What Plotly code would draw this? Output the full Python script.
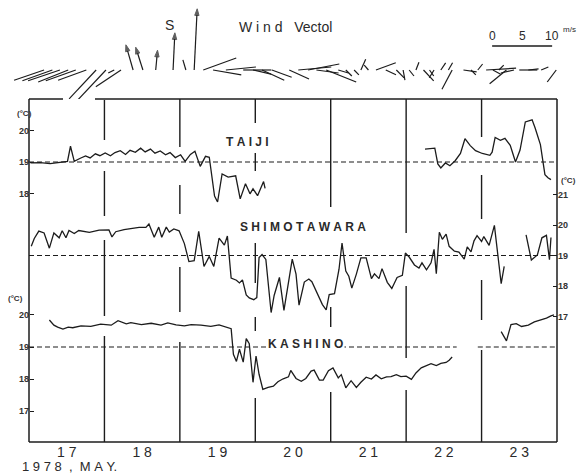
import plotly.graph_objects as go

# ------------------------------------------------------------------ data
# air temperature (deg C) vs time (day of May 1978)
TAIJI_DAY = [17.02, 17.15, 17.28, 17.41, 17.51, 17.55, 17.60, 17.68, 17.75, 17.81,
             17.88, 17.94, 18.01, 18.08, 18.14, 18.21, 18.28, 18.34, 18.41, 18.48,
             18.54, 18.61, 18.67, 18.74, 18.81, 18.87, 18.94, 19.01, 19.07, 19.14,
             19.20, 19.27, 19.34, 19.39, 19.46, 19.50, 19.56, 19.64, 19.74, 19.80,
             19.87, 19.93, 19.97, 20.03, 20.07, 20.11, 20.13, None,
             22.25, 22.38, 22.42, 22.46, 22.52, 22.58, 22.65, 22.72, 22.78, 22.85,
             22.92, 23.01, 23.11, 23.14, 23.18, 23.25, 23.31, 23.38, 23.45, 23.51,
             23.58, 23.67, 23.71, 23.78, 23.84, 23.88, 23.92]
TAIJI_TEMP = [18.97, 18.98, 18.95, 18.99, 19.02, 19.50, 19.02, 19.12, 19.19, 19.13,
              19.26, 19.20, 19.29, 19.20, 19.30, 19.36, 19.24, 19.37, 19.31, 19.44,
              19.32, 19.41, 19.28, 19.35, 19.23, 19.30, 19.14, 19.23, 19.02, 19.24,
              19.34, 18.86, 19.18, 19.15, 17.92, 17.73, 18.62, 18.52, 18.56, 17.83,
              18.31, 17.99, 18.15, 17.93, 18.16, 18.38, 18.16, None,
              19.41, 19.44, 18.94, 18.81, 18.97, 18.88, 19.04, 19.27, 19.74, 19.52,
              19.36, 19.27, 19.21, 19.31, 19.78, 19.69, 19.75, 19.53, 19.00, 19.38,
              20.27, 20.34, 20.08, 19.55, 18.60, 18.50, 18.44]

SHIMO_DAY = [17.03, 17.07, 17.13, 17.20, 17.27, 17.33, 17.40, 17.44, 17.49, 17.53,
             17.60, 17.66, 17.80, 17.93, 18.06, 18.10, 18.15, 18.26, 18.46, 18.55,
             18.59, 18.66, 18.72, 18.76, 18.82, 18.86, 18.92, 18.99, 19.06, 19.12,
             19.19, 19.25, 19.32, 19.39, 19.45, 19.52, 19.59, 19.63, 19.68, 19.75,
             19.79, 19.83, 19.88, 19.92, 19.98, 20.02, 20.05, 20.09, 20.14, 20.21,
             20.25, 20.32, 20.38, 20.49, 20.54, 20.58, 20.65, 20.71, 20.75, 20.81,
             20.89, 20.94, 20.98, 21.05, 21.11, 21.15, 21.20, 21.24, 21.28, 21.34,
             21.40, 21.47, 21.54, 21.58, 21.64, 21.68, 21.75, 21.81, 21.88, 21.95,
             21.99, 22.04, 22.11, 22.17, 22.21, 22.27, 22.33, 22.37, 22.40, 22.44,
             22.48, 22.53, 22.57, 22.64, 22.70, 22.77, 22.81, 22.86, 22.90, 22.94,
             23.00, 23.03, 23.10, 23.17, 23.21, 23.23, 23.26, 23.30, None,
             23.59, 23.66, 23.74, 23.80, 23.86, 23.90, 23.92]
SHIMO_TEMP = [19.30, 19.56, 19.80, 19.74, 19.24, 19.74, 19.58, 19.81, 19.58, 19.82,
              19.72, 19.82, 19.76, 19.83, 19.84, 19.61, 19.78, 19.85, 19.92, 19.92,
              20.03, 19.60, 19.93, 19.60, 19.93, 19.77, 19.87, 19.81, 19.39, 18.80,
              18.83, 19.79, 18.64, 18.97, 18.64, 19.57, 19.34, 19.64, 18.26, 18.19,
              18.10, 18.20, 17.71, 17.61, 17.55, 17.62, 18.93, 19.03, 18.87, 17.13,
              17.69, 18.28, 17.20, 18.88, 18.39, 17.37, 18.13, 18.23, 18.14, 17.81,
              17.39, 17.22, 17.72, 17.75, 18.55, 19.41, 18.49, 18.32, 17.93, 18.39,
              18.92, 18.92, 18.24, 18.40, 18.24, 18.57, 18.12, 17.92, 18.28, 18.35,
              19.08, 18.95, 18.69, 18.59, 18.76, 18.53, 18.76, 19.20, 18.40, 19.76,
              19.53, 19.70, 19.30, 19.14, 19.11, 18.88, 19.28, 19.12, 19.48, 19.65,
              19.46, 19.62, 19.33, 19.99, 19.13, 18.64, 18.08, 18.64, None,
              19.68, 18.85, 19.02, 19.58, 19.66, 18.86, 19.59]

KASHINO_DAY = [17.27, 17.33, 17.38, 17.45, 17.52, 17.58, 17.69, 17.82, 17.95, 18.09,
               18.18, 18.29, 18.35, 18.49, 18.62, 18.75, 18.84, 18.95, 19.06, 19.15,
               19.28, 19.41, 19.52, 19.61, 19.68, 19.71, 19.75, 19.79, 19.84, 19.88,
               19.92, 19.97, 20.01, 20.05, 20.10, 20.17, 20.24, 20.30, 20.37, 20.44,
               20.47, 20.54, 20.61, 20.67, 20.74, 20.78, 20.85, 20.90, 20.97, 21.03,
               21.10, 21.14, 21.20, 21.27, 21.34, 21.40, 21.47, 21.54, 21.60, 21.67,
               21.74, 21.80, 21.87, 21.93, 22.00, 22.07, 22.13, 22.20, 22.27, 22.33,
               22.40, 22.46, 22.53, 22.57, 22.61, None,
               23.26, 23.33, 23.39, 23.46, 23.53, 23.62, 23.70, 23.79, 23.86, 23.92,
               23.96]
KASHINO_TEMP = [19.84, 19.68, 19.62, 19.56, 19.62, 19.60, 19.66, 19.64, 19.71, 19.68,
                19.82, 19.72, 19.76, 19.70, 19.74, 19.68, 19.75, 19.69, 19.66, 19.70,
                19.68, 19.64, 19.69, 19.62, 19.57, 18.77, 18.55, 18.93, 18.53, 19.26,
                19.10, 17.90, 18.72, 18.15, 17.68, 17.74, 17.78, 17.92, 18.01, 18.07,
                18.27, 18.02, 17.93, 18.02, 18.25, 18.28, 17.97, 17.97, 18.26, 18.35,
                18.04, 18.14, 17.73, 17.95, 17.74, 17.90, 18.06, 18.00, 18.13, 18.01,
                18.07, 18.08, 18.14, 18.08, 18.09, 17.99, 18.19, 18.35, 18.42, 18.48,
                18.42, 18.49, 18.52, 18.59, 18.69, None,
                19.48, 19.19, 19.70, 19.73, 19.64, 19.68, 19.78, 19.84, 19.90, 19.97,
                20.00]

# reference (dashed) level of each station, deg C
TAIJI_REF = 19.0
SHIMO_REF = 19.0
KASHINO_REF = 19.0
KASHINO_REF_DAYS = [17.0, 22.67, None, 22.95, 24.0]

# wind vectors: time (day), eastward u and northward v (m/s)
WIND_DAY = [17.20, 17.31, 17.41, 17.52, 17.62, 17.76, 17.89, 18.02, 18.13, 18.22,
            18.38, 18.51, 18.68, 18.91, 19.08, 19.19, 19.31, 19.44, 19.61, 19.84,
            19.97, 20.09, 20.22, 20.45, 20.57, 20.70, 20.81, 20.94, 21.10, 21.20,
            21.31, 21.40, 21.50, 21.60, 21.73, 21.87, 21.96, 22.04, 22.13, 22.23,
            22.31, 22.37, 22.46, 22.56, 22.61, 22.76, 22.86, 22.95, 23.06, 23.15,
            23.23, 23.33, 23.43, 23.50, 23.62, 23.79, 23.99]
WIND_U = [-5.0, -5.0, -5.3, -5.0, -5.0, -4.7, -4.5, -4.7, -1.0, -4.2,
          -1.2, -1.2, 0.3, 0.3, -0.5, 0.5, 5.5, 4.7, 5.0, 4.7,
          3.0, 3.7, 3.3, 3.3, 5.5, 5.2, 3.7, 5.0, 1.7, 1.0,
          0.8, 0.8, -0.7, 3.3, 1.7, 1.3, 0.3, 0.8, 0.5, 1.7,
          0.7, -0.8, 0.8, 0.7, -1.7, 2.2, 0.8, 0.8, 5.0, 1.3,
          0.8, -2.8, -2.2, 3.0, 1.7, 1.2, -1.5]
WIND_V = [-1.7, -1.8, -1.8, -2.0, -1.8, -1.7, -4.8, -5.0, -0.5, -2.8,
          4.2, 3.8, 3.3, 6.2, 1.7, 10.2, 2.0, -0.8, 0.5, 0.0,
          -0.7, -1.7, -1.2, -1.5, 0.5, 1.0, -0.5, -2.0, -0.5, -1.0,
          -0.8, 1.8, 0.8, 1.2, -0.8, -1.3, -1.7, -1.0, 1.3, -1.8,
          -1.0, -1.3, 1.2, 1.2, -3.2, -0.3, -0.8, 1.0, 0.3, -0.7,
          0.8, -2.3, -0.5, 0.0, 0.2, 0.5, -2.0]

DAY_TICKS = [17, 18, 19, 20, 21, 22, 23]
DAY_LABELS = ["17", "18", "19", "20", "21", "22", "23"]
TAIJI_TICKS = [18, 19, 20]
SHIMO_TICKS = [17, 18, 19, 20, 21]
KASHINO_TICKS = [17, 18, 19, 20]
SCALE_MS = [0, 5, 10]

# ------------------------------------------------------------------ layout geometry (pixels)
W, H = 582, 474
BOTTOM = 442            # bottom of frame / plot area
TOP = 99                # top of the temperature frame
FL, FR = 29, 557        # left / right frame
PPD = (FR - FL) / 7.0   # px per day
X0 = 17 - FL / PPD
X1 = 24 + (W - FR) / PPD
WIND_PPM = 6.0          # px per m/s
WIND_BASE = 70          # px of the wind base line
INK = "#1c1c1c"
FONT = "Liberation Sans"


def pyp(p):
    return (BOTTOM - p) / BOTTOM


def pxp(p):
    return p / W


def yrange(ref_px, ppd):
    return [19 - (BOTTOM - ref_px) / ppd, 19 + (ref_px - TOP) / ppd]


def sp(s):
    return "\u00a0".join(s)


TDOM = [0, pyp(TOP)]
fig = go.Figure()

# dashed reference levels
DASH = dict(color=INK, width=1.2, dash="5px,3px")
fig.add_trace(go.Scatter(x=[17, 24], y=[TAIJI_REF] * 2, mode="lines", yaxis="y", line=DASH))
fig.add_trace(go.Scatter(x=[17, 24], y=[SHIMO_REF] * 2, mode="lines", yaxis="y3", line=DASH))
fig.add_trace(go.Scatter(x=KASHINO_REF_DAYS,
                         y=[KASHINO_REF if d is not None else None for d in KASHINO_REF_DAYS],
                         mode="lines", yaxis="y2", line=DASH))

# temperature series
fig.add_trace(go.Scatter(x=TAIJI_DAY, y=TAIJI_TEMP, mode="lines", yaxis="y",
                         line=dict(color=INK, width=1.3)))
fig.add_trace(go.Scatter(x=SHIMO_DAY, y=SHIMO_TEMP, mode="lines", yaxis="y3",
                         line=dict(color=INK, width=1.3)))
fig.add_trace(go.Scatter(x=KASHINO_DAY, y=KASHINO_TEMP, mode="lines", yaxis="y2",
                         line=dict(color=INK, width=1.3)))

# wind sticks
K = WIND_PPM / PPD
wx, wy, wsym, wsize = [], [], [], []
for d, u, v in zip(WIND_DAY, WIND_U, WIND_V):
    big = v > 3
    wx += [d, d + u * K, None]
    wy += [0, v, None]
    wsym += ["circle-open", "arrow" if big else "circle", "circle"]
    wsize += [3.5, 7 if big else 0, 0]
fig.add_trace(go.Scatter(x=wx, y=wy, mode="lines+markers", yaxis="y4",
                         line=dict(color=INK, width=1.2),
                         marker=dict(symbol=wsym, size=wsize, color=INK,
                                     angleref="previous", line=dict(color=INK, width=1))))

# wind scale bar
S0 = 23.14
SCALE_Y = (WIND_BASE - 46) / WIND_PPM
fig.add_trace(go.Scatter(x=[S0 + SCALE_MS[0] * K, S0 + SCALE_MS[-1] * K],
                         y=[SCALE_Y, SCALE_Y], mode="lines", yaxis="y4",
                         line=dict(color=INK, width=1.6)))

axis_common = dict(showgrid=False, zeroline=False, showline=False, automargin=False,
                   fixedrange=True)
tick_font = dict(family=FONT, size=9, color="#333", weight="bold")

fig.update_layout(
    width=W, height=H,
    margin=dict(l=0, r=0, t=0, b=H - BOTTOM, pad=0),
    paper_bgcolor="white", plot_bgcolor="white",
    showlegend=False,
    xaxis=dict(range=[X0, X1], domain=[0, 1], anchor="y",
               tickvals=[d + 0.5 for d in DAY_TICKS], ticktext=[sp(t) for t in DAY_LABELS],
               ticks="", tickfont=dict(family=FONT, size=14, color="#2a2a2a"),
               **axis_common),
    yaxis=dict(range=yrange(162, 31.5), domain=TDOM, anchor="free", position=pxp(FL),
               side="left", tickvals=TAIJI_TICKS, ticks="inside", ticklen=4,
               tickcolor=INK, tickfont=tick_font, **axis_common),
    yaxis2=dict(range=yrange(347, 32.1), overlaying="y", anchor="free", position=pxp(FL),
                side="left", tickvals=KASHINO_TICKS, ticks="inside", ticklen=4,
                tickcolor=INK, tickfont=tick_font, **axis_common),
    yaxis3=dict(range=yrange(255.5, 30.5), overlaying="y", anchor="free", position=pxp(FR),
                side="right", tickvals=SHIMO_TICKS, ticks="inside", ticklen=4,
                tickcolor=INK, tickfont=tick_font, **axis_common),
    yaxis4=dict(range=[-(TOP - WIND_BASE) / WIND_PPM, WIND_BASE / WIND_PPM],
                domain=[pyp(TOP), 1], anchor="x", visible=False, **axis_common),
)

# frame (paper coordinates)
shapes = []


def frame_line(x0, y0, x1, y1, w=1.5):
    return dict(type="line", xref="paper", yref="paper", x0=pxp(x0), x1=pxp(x1),
                y0=pyp(y0), y1=pyp(y1), line=dict(color=INK, width=w), layer="above")


shapes.append(frame_line(FL, TOP, FL + 34, TOP))
shapes.append(frame_line(FL + 66, TOP, FR, TOP))
shapes.append(frame_line(FL, BOTTOM, FR, BOTTOM))
shapes.append(frame_line(FL, TOP, FL, BOTTOM))
shapes.append(frame_line(FR, TOP, FR, BOTTOM))

# broken midnight lines
DAY_LINE_SEGMENTS = {
    18: [(100, 140), (171, 216), (240, 316), (336, 442)],
    19: [(99, 147), (185, 214), (267, 312), (342, 442)],
    20: [(99, 123), (153, 171), (243, 283), (317, 331), (398, 442)],
    21: [(99, 207), (307, 327), (392, 442)],
    22: [(99, 233), (286, 358), (390, 442)],
    23: [(99, 137), (175, 219), (280, 320), (350, 442)],
}
for day, segs in DAY_LINE_SEGMENTS.items():
    for a, b in segs:
        shapes.append(dict(type="line", xref="x", yref="paper", x0=day, x1=day,
                           y0=pyp(a), y1=pyp(b), line=dict(color=INK, width=1.4)))
fig.update_layout(shapes=shapes)

ann = []
C = dict(xanchor="center", yanchor="middle", showarrow=False)
label_font = dict(family=FONT, size=12, color="#2a2a2a", weight="bold")
ann.append(dict(text=sp("TAIJI"), x=pxp(247), y=pyp(142), xref="paper", yref="paper",
                font=label_font, **C))
ann.append(dict(text=sp("SHIMOTAWARA"), x=pxp(303), y=pyp(227), xref="paper", yref="paper",
                font=label_font, **C))
ann.append(dict(text=sp("KASHINO"), x=pxp(305), y=pyp(344), xref="paper", yref="paper",
                font=label_font, bgcolor="white", **C))
unit_font = dict(family=FONT, size=8, color="#333", weight="bold")
ann.append(dict(text="(°C)", x=pxp(24), y=20.55, xref="paper", yref="y",
                font=unit_font, **C))
ann.append(dict(text="(°C)", x=pxp(15), y=20.5, xref="paper", yref="y2",
                font=unit_font, **C))
ann.append(dict(text="(°C)", x=pxp(568), y=21.45, xref="paper", yref="y3",
                font=unit_font, **C))
ann.append(dict(text="W\u00a0i\u00a0n\u00a0d\u00a0\u00a0\u00a0Vectol", x=pxp(285), y=pyp(27),
                xref="paper", yref="paper",
                font=dict(family=FONT, size=14, color="#2a2a2a"), **C))
ann.append(dict(text="S", x=pxp(169), y=pyp(25), xref="paper", yref="paper",
                font=dict(family=FONT, size=14, color="#2a2a2a"), **C))
for s in SCALE_MS:
    ann.append(dict(text=str(s), x=S0 + s * K, y=(WIND_BASE - 36) / WIND_PPM,
                    xref="x", yref="y4",
                    font=dict(family=FONT, size=12, color="#2a2a2a"), **C))
ann.append(dict(text="m/s", x=pxp(561), y=pyp(30), xref="paper", yref="paper",
                xanchor="left", yanchor="middle", showarrow=False,
                font=dict(family=FONT, size=8, color="#2a2a2a")))
ann.append(dict(text="1\u00a09\u00a07\u00a08\u00a0\u00a0,\u00a0\u00a0M\u00a0A\u00a0Y.", x=pxp(20),
                y=pyp(466), xref="paper", yref="paper", xanchor="left", yanchor="middle",
                showarrow=False, font=dict(family=FONT, size=13, color="#2a2a2a")))
fig.update_layout(annotations=ann)

fig.write_html("out.html", config={"displayModeBar": False},
               post_script="document.body.style.margin='0';document.body.style.overflow='hidden';")
